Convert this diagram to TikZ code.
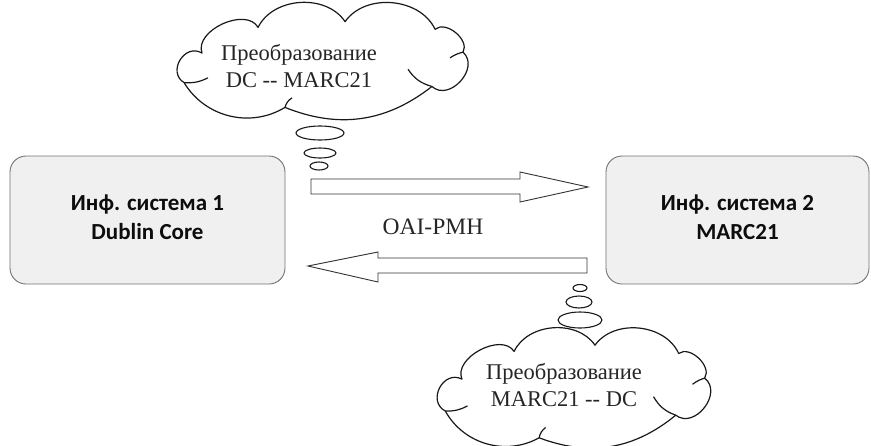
\documentclass[tikz,border=0pt]{standalone}
\usepackage{fontspec}
\setmainfont{Liberation Serif}[Ligatures=NoCommon]
\newfontfamily\boxfont{Carlito}
\newcommand\mycloudoutline{(-0.926,0.352) to[bend left=90, looseness=1.5] (-0.806,-0.238) to[bend left=85] (-0.431,-0.752) to[bend left=60] (0.151,-0.867) to[bend left=60] (0.753,-0.714) to[bend left=80] (0.940,-0.257) to[bend left=90, looseness=1.3] (0.732,0.429) to[bend left=30] (-0.251,0.848) to[bend left=45] (-0.926,0.352) -- cycle}
\newcommand\mycloudstrokes{(-0.926,0.352) to[bend right=15] (-0.766,0.257) (-0.251,0.848) to[bend left=20] (-0.204,0.657) (0.732,0.429) to[bend left=20] (0.572,0.086) (0.940,-0.257) to[bend right=10] (0.853,-0.143)}
\tikzset{
  sysbox/.style={draw=black!55, line width=0.9pt, fill=black!6, rounded corners=16pt},
  systext/.style={font=\boxfont\bfseries\fontsize{23}{29}\selectfont, align=center, text=black!95},
  cloudline/.style={draw=black!90, line width=1.2pt, line join=round},
  cloudtext/.style={font=\fontsize{22.5}{27}\selectfont, align=center, text=black!85},
  bubble/.style={draw=black!90, line width=1.1pt},
  blockarrow/.style={draw=black!80, line width=0.9pt, fill=white},
  midtext/.style={font=\fontsize{23.5}{26}\selectfont, text=black!85}
}
\begin{document}
\begin{tikzpicture}[x=1pt,y=-1pt]
\useasboundingbox (0,0) rectangle (871,445);
% systems
\draw[sysbox] (10,156) rectangle (285,284);
\node[systext] (s1) at (147.5,217) {Инф. система 1\\Dublin Core};
\draw[sysbox] (606,156) rectangle (869,284);
\node[systext] (s2) at (737.5,217) {Инф. система 2\\MARC21};
% block arrows
\draw[blockarrow] (311,179) -- (520,179) -- (520,172) -- (588,187) -- (520,202) -- (520,194) -- (311,194) -- cycle;
\draw[blockarrow] (587,258) -- (378,258) -- (378,252) -- (308,266) -- (378,282) -- (378,273) -- (587,273) -- cycle;
\node[midtext] (oai) at (433,227) {OAI-PMH};
% top cloud
\begin{scope}[shift={(322.5pt,-65pt)}, x=149.5pt, y=-50pt]
  \draw[cloudline, fill=white] \mycloudoutline;
  \draw[cloudline] \mycloudstrokes;
\end{scope}
\node[cloudtext] (t1) at (299,66) {Преобразование\\DC -{}- MARC21};
\draw[bubble] (320,133) ellipse [x radius=24, y radius=7];
\draw[bubble] (320,153) ellipse [x radius=16, y radius=5];
\draw[bubble] (319,166) ellipse [x radius=9, y radius=4];
% bottom cloud
\begin{scope}[shift={(574pt,-392pt)}, x=139pt, y=-54pt]
  \draw[cloudline, fill=white] \mycloudoutline;
  \draw[cloudline] \mycloudstrokes;
\end{scope}
\node[cloudtext] (t2) at (564,385) {Преобразование\\MARC21 -{}- DC};
\draw[bubble] (580,288) ellipse [x radius=7, y radius=3.5];
\draw[bubble] (579,302) ellipse [x radius=13, y radius=6];
\draw[bubble] (580,320) ellipse [x radius=22, y radius=8];
\end{tikzpicture}
\end{document}
